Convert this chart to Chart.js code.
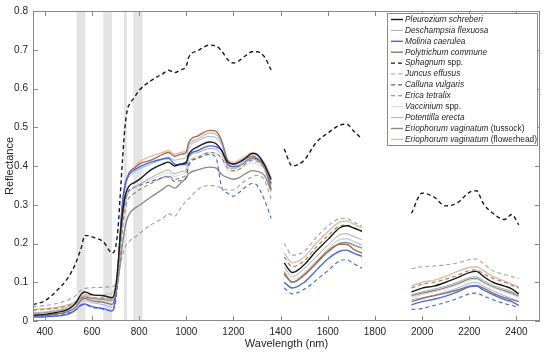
<!DOCTYPE html>
<html>
<head>
<meta charset="utf-8">
<script src="https://cdn.jsdelivr.net/npm/chart.js@4.4.1/dist/chart.umd.min.js"></script>
<style>
  html, body { margin: 0; padding: 0; background: #fff; }
  #wrap { width: 550px; height: 353px; position: relative; }
</style>
</head>
<body>
<div id="wrap"><canvas id="chart"></canvas></div>
<script>
// wavelength grid (nm); 1385 and 1850 are gap markers (water absorption bands)
const wavelengths = [350,400,450,500,530,555,570,600,650,670,685,700,710,720,730,740,750,760,780,800,850,900,925,950,975,1000,1010,1050,1100,1125,1150,1175,1200,1225,1250,1280,1300,1330,1360,
  1385,
  1415,1450,1500,1550,1600,1650,1680,1710,1745,
  1850,
  1955,2000,2050,2100,2150,2200,2230,2260,2300,2350,2380,2410];

const pleurozium = [0.015,0.017,0.022,0.030,0.045,0.070,0.075,0.068,0.065,0.062,0.060,0.085,0.140,0.220,0.280,0.320,0.340,0.350,0.357,0.365,0.390,0.405,0.410,0.400,0.405,0.410,0.430,0.450,0.462,0.458,0.440,0.410,0.405,0.410,0.420,0.433,0.430,0.405,0.365,
  null, 0.150,0.125,0.145,0.180,0.210,0.240,0.246,0.240,0.232,
  null, 0.075,0.085,0.090,0.100,0.112,0.125,0.128,0.115,0.100,0.090,0.083,0.070];
const deschampsia = [0.020,0.022,0.026,0.033,0.045,0.062,0.065,0.060,0.058,0.056,0.055,0.075,0.120,0.190,0.260,0.300,0.325,0.335,0.345,0.352,0.370,0.385,0.390,0.380,0.385,0.390,0.420,0.435,0.445,0.443,0.430,0.400,0.393,0.398,0.410,0.418,0.415,0.398,0.360,
  null, 0.140,0.115,0.135,0.165,0.195,0.222,0.225,0.218,0.210,
  null, 0.068,0.075,0.082,0.090,0.100,0.112,0.114,0.105,0.092,0.082,0.076,0.066];
const molinia = [0.010,0.011,0.013,0.018,0.028,0.042,0.044,0.037,0.032,0.028,0.026,0.060,0.130,0.230,0.310,0.350,0.370,0.380,0.390,0.397,0.410,0.418,0.420,0.405,0.403,0.405,0.425,0.440,0.452,0.450,0.440,0.405,0.398,0.400,0.410,0.420,0.418,0.400,0.355,
  null, 0.100,0.085,0.100,0.130,0.160,0.180,0.183,0.175,0.167,
  null, 0.042,0.050,0.056,0.064,0.075,0.088,0.090,0.080,0.068,0.055,0.050,0.040];
const polytrichum = [0.012,0.014,0.018,0.025,0.035,0.055,0.058,0.052,0.048,0.045,0.043,0.070,0.130,0.220,0.300,0.350,0.370,0.385,0.395,0.405,0.415,0.430,0.435,0.425,0.430,0.435,0.460,0.478,0.492,0.490,0.465,0.415,0.405,0.410,0.418,0.425,0.420,0.400,0.340,
  null, 0.120,0.100,0.120,0.150,0.180,0.198,0.198,0.185,0.175,
  null, 0.050,0.058,0.065,0.072,0.080,0.090,0.092,0.085,0.072,0.060,0.055,0.050];
const sphagnum = [0.042,0.052,0.078,0.113,0.148,0.190,0.221,0.217,0.203,0.185,0.175,0.190,0.235,0.325,0.420,0.500,0.545,0.560,0.577,0.595,0.620,0.638,0.647,0.641,0.648,0.658,0.680,0.698,0.712,0.710,0.697,0.675,0.666,0.672,0.684,0.695,0.695,0.683,0.648,
  null, 0.444,0.400,0.415,0.460,0.485,0.505,0.508,0.490,0.470,
  null, 0.278,0.330,0.320,0.297,0.305,0.332,0.336,0.303,0.278,0.262,0.275,0.248];
const juncus = [0.037,0.040,0.045,0.055,0.065,0.080,0.084,0.086,0.087,0.088,0.088,0.095,0.110,0.140,0.170,0.190,0.200,0.207,0.215,0.225,0.248,0.265,0.277,0.270,0.290,0.310,0.315,0.340,0.350,0.348,0.343,0.338,0.338,0.350,0.362,0.372,0.376,0.365,0.315,
  null, 0.200,0.170,0.180,0.215,0.245,0.264,0.265,0.255,0.245,
  null, 0.135,0.140,0.142,0.145,0.150,0.158,0.160,0.148,0.130,0.120,0.115,0.110];
const calluna = [0.012,0.013,0.016,0.021,0.028,0.040,0.042,0.035,0.030,0.027,0.025,0.050,0.110,0.200,0.270,0.310,0.330,0.340,0.345,0.350,0.360,0.370,0.372,0.360,0.362,0.370,0.400,0.420,0.430,0.423,0.345,0.330,0.322,0.332,0.345,0.355,0.350,0.315,0.265,
  null, 0.085,0.070,0.082,0.105,0.130,0.155,0.158,0.148,0.136,
  null, 0.030,0.032,0.040,0.048,0.058,0.070,0.072,0.065,0.055,0.045,0.040,0.035];
const erica = [0.028,0.030,0.033,0.040,0.048,0.060,0.062,0.060,0.060,0.060,0.060,0.075,0.110,0.170,0.240,0.285,0.310,0.320,0.330,0.338,0.355,0.370,0.375,0.365,0.370,0.378,0.405,0.422,0.435,0.432,0.420,0.395,0.388,0.392,0.405,0.415,0.412,0.395,0.355,
  null, 0.165,0.140,0.155,0.190,0.220,0.245,0.248,0.240,0.230,
  null, 0.085,0.095,0.100,0.108,0.118,0.130,0.132,0.122,0.110,0.100,0.092,0.085];
const vaccinium = [0.022,0.024,0.028,0.035,0.045,0.058,0.060,0.055,0.052,0.050,0.050,0.070,0.115,0.185,0.255,0.300,0.325,0.335,0.345,0.352,0.365,0.378,0.383,0.373,0.378,0.385,0.410,0.425,0.435,0.433,0.420,0.390,0.385,0.390,0.400,0.408,0.405,0.390,0.350,
  null, 0.130,0.108,0.125,0.155,0.185,0.210,0.213,0.206,0.198,
  null, 0.060,0.068,0.075,0.083,0.093,0.105,0.107,0.098,0.086,0.075,0.068,0.060];
const potentilla = [0.014,0.015,0.018,0.024,0.035,0.050,0.052,0.047,0.042,0.038,0.036,0.065,0.130,0.220,0.300,0.345,0.365,0.375,0.385,0.392,0.405,0.418,0.423,0.415,0.418,0.422,0.445,0.465,0.476,0.473,0.455,0.408,0.400,0.404,0.414,0.420,0.416,0.395,0.350,
  null, 0.120,0.100,0.118,0.150,0.185,0.210,0.212,0.205,0.195,
  null, 0.055,0.060,0.067,0.075,0.085,0.097,0.100,0.090,0.078,0.065,0.058,0.050];
const tussock = [0.020,0.022,0.027,0.035,0.045,0.060,0.062,0.058,0.055,0.054,0.054,0.070,0.100,0.150,0.200,0.240,0.265,0.278,0.290,0.298,0.320,0.340,0.350,0.343,0.355,0.370,0.380,0.390,0.397,0.395,0.378,0.370,0.366,0.370,0.380,0.388,0.386,0.377,0.335,
  null, 0.125,0.100,0.118,0.148,0.178,0.200,0.203,0.196,0.188,
  null, 0.065,0.072,0.078,0.086,0.096,0.108,0.110,0.100,0.088,0.078,0.072,0.064];
const flowerhead = [0.030,0.032,0.035,0.042,0.050,0.065,0.068,0.066,0.068,0.070,0.072,0.090,0.140,0.220,0.290,0.340,0.370,0.385,0.395,0.410,0.425,0.435,0.440,0.430,0.435,0.440,0.455,0.470,0.485,0.482,0.460,0.415,0.410,0.415,0.425,0.430,0.427,0.410,0.370,
  null, 0.175,0.150,0.165,0.200,0.230,0.255,0.258,0.250,0.240,
  null, 0.090,0.100,0.105,0.115,0.128,0.138,0.140,0.130,0.115,0.103,0.095,0.088];

const speciesNames = ["Pleurozium schreberi", "Deschampsia flexuosa", "Molinia caerulea", "Polytrichum commune",
  "Sphagnum spp.", "Juncus effusus", "Calluna vulgaris", "Erica tetralix", "Vaccinium spp.",
  "Potentilla erecta", "Eriophorum vaginatum (tussock)", "Eriophorum vaginatum (flowerhead)"];
const seriesValues = [pleurozium, deschampsia, molinia, polytrichum, sphagnum, juncus, calluna, erica,
  vaccinium, potentilla, tussock, flowerhead];

// shaded wavelength windows
const bandStart = [535, 648, 735, 775];
const bandEnd = [572, 685, 748, 815];

const xTicks = [400, 600, 800, 1000, 1200, 1400, 1600, 1800, 2000, 2200, 2400];
const yTicks = [0, 0.1, 0.2, 0.3, 0.4, 0.5, 0.6, 0.7, 0.8];

const STYLE = [
  { color: "#1a1a1a", width: 1.4, dash: [] },
  { color: "#a8a8a8", width: 1, dash: [] },
  { color: "#4868ec", width: 1.4, dash: [] },
  { color: "#a0704e", width: 1.4, dash: [] },
  { color: "#1a1a1a", width: 1.4, dash: [4, 3] },
  { color: "#a0a0a0", width: 1.1, dash: [4, 3] },
  { color: "#3a68ec", width: 1.1, dash: [4, 3] },
  { color: "#a8784a", width: 1.1, dash: [4, 3] },
  { color: "#d4d4d4", width: 1, dash: [] },
  { color: "#94b4f2", width: 1, dash: [] },
  { color: "#8a8a8a", width: 1.4, dash: [] },
  { color: "#e2bca4", width: 1.4, dash: [] },
];

const FONT = "'Liberation Sans', Arial, sans-serif";
const INK = "#262626";

const datasets = seriesValues.map((vals, i) => ({
  label: speciesNames[i],
  data: wavelengths.map((w, j) => ({ x: w, y: vals[j] })),
  borderColor: STYLE[i].color,
  borderWidth: STYLE[i].width,
  borderDash: STYLE[i].dash,
  pointRadius: 0,
  fill: false,
  cubicInterpolationMode: "monotone",
  spanGaps: false,
}));

const bands = {
  id: "bands",
  beforeDatasetsDraw(chart) {
    const { ctx, chartArea: a, scales: { x } } = chart;
    ctx.save();
    ctx.fillStyle = "#e4e4e4";
    bandStart.forEach((s, i) => {
      const x0 = x.getPixelForValue(s), x1 = x.getPixelForValue(bandEnd[i]);
      ctx.fillRect(x0, a.top, x1 - x0, a.bottom - a.top);
    });
    ctx.restore();
  },
};

// box with inward ticks on all sides, plus axis titles
const frame = {
  id: "frame",
  afterDatasetsDraw(chart) {
    const { ctx, chartArea: a, scales: { x, y } } = chart;
    ctx.save();
    ctx.strokeStyle = "#8a8a8a";
    ctx.lineWidth = 1;
    ctx.strokeRect(a.left + 0.5, a.top + 0.5, a.right - a.left - 1, a.bottom - a.top - 1);
    ctx.beginPath();
    xTicks.forEach((t) => {
      const px = Math.round(x.getPixelForValue(t)) + 0.5;
      ctx.moveTo(px, a.bottom); ctx.lineTo(px, a.bottom - 5);
      ctx.moveTo(px, a.top); ctx.lineTo(px, a.top + 5);
    });
    yTicks.forEach((t) => {
      const py = Math.round(y.getPixelForValue(t)) + 0.5;
      ctx.moveTo(a.left, py); ctx.lineTo(a.left + 5, py);
      ctx.moveTo(a.right, py); ctx.lineTo(a.right - 5, py);
    });
    ctx.stroke();

    ctx.fillStyle = INK;
    ctx.font = `11px ${FONT}`;
    ctx.textAlign = "center";
    ctx.textBaseline = "middle";
    ctx.fillText("Wavelength (nm)", (a.left + a.right) / 2, 344);
    ctx.translate(10, (a.top + a.bottom) / 2);
    ctx.rotate(-Math.PI / 2);
    ctx.fillText("Reflectance", 0, 0);
    ctx.restore();
  },
};

// legend with italic species names and upright qualifiers
const legend = {
  id: "customLegend",
  afterDraw(chart) {
    const { ctx } = chart;
    const bx = 387, by = 13, bw = 150, bh = 132, row = 10.9;
    ctx.save();
    ctx.fillStyle = "#fff";
    ctx.fillRect(bx, by, bw, bh);
    ctx.strokeStyle = "#8a8a8a";
    ctx.lineWidth = 1;
    ctx.strokeRect(bx + 0.5, by + 0.5, bw, bh);
    ctx.textBaseline = "middle";
    speciesNames.forEach((name, i) => {
      const cy = by + 6.5 + i * row;
      ctx.strokeStyle = STYLE[i].color;
      ctx.lineWidth = STYLE[i].width;
      ctx.setLineDash(STYLE[i].dash);
      ctx.beginPath();
      ctx.moveTo(bx + 4, cy); ctx.lineTo(bx + 16, cy);
      ctx.stroke();
      ctx.setLineDash([]);
      const m = name.match(/^(.*?)( spp\.| \(.*\))?$/);
      ctx.fillStyle = INK;
      ctx.font = `italic 8.3px ${FONT}`;
      let tx = bx + 18;
      ctx.fillText(m[1], tx, cy);
      tx += ctx.measureText(m[1]).width;
      if (m[2]) {
        ctx.font = `8.3px ${FONT}`;
        ctx.fillText(m[2], tx, cy);
      }
    });
    ctx.restore();
  },
};

new Chart(document.getElementById("chart"), {
  type: "line",
  data: { datasets },
  plugins: [bands, frame, legend],
  options: {
    responsive: true,
    maintainAspectRatio: false,
    animation: false,
    layout: { padding: { top: 10, right: 10, left: 0, bottom: 0 } },
    plugins: { legend: { display: false }, tooltip: { enabled: false } },
    scales: {
      x: {
        type: "linear",
        min: 350,
        max: 2500,
        afterBuildTicks: (s) => { s.ticks = xTicks.map((v) => ({ value: v })); },
        afterFit: (s) => { s.height = 32; },
        grid: { display: false, drawTicks: false },
        border: { display: false },
        ticks: { color: INK, font: { family: FONT, size: 10 }, padding: 5, maxRotation: 0, callback: (v) => String(v) },
      },
      y: {
        min: 0,
        max: 0.8,
        afterBuildTicks: (s) => { s.ticks = yTicks.map((v) => ({ value: v })); },
        afterFit: (s) => { s.width = 33; },
        grid: { display: false, drawTicks: false },
        border: { display: false },
        ticks: {
          color: INK,
          font: { family: FONT, size: 10 },
          padding: 5,
          callback: (v) => (v === 0 ? "0" : v.toFixed(1)),
        },
      },
    },
  },
});
</script>
</body>
</html>
